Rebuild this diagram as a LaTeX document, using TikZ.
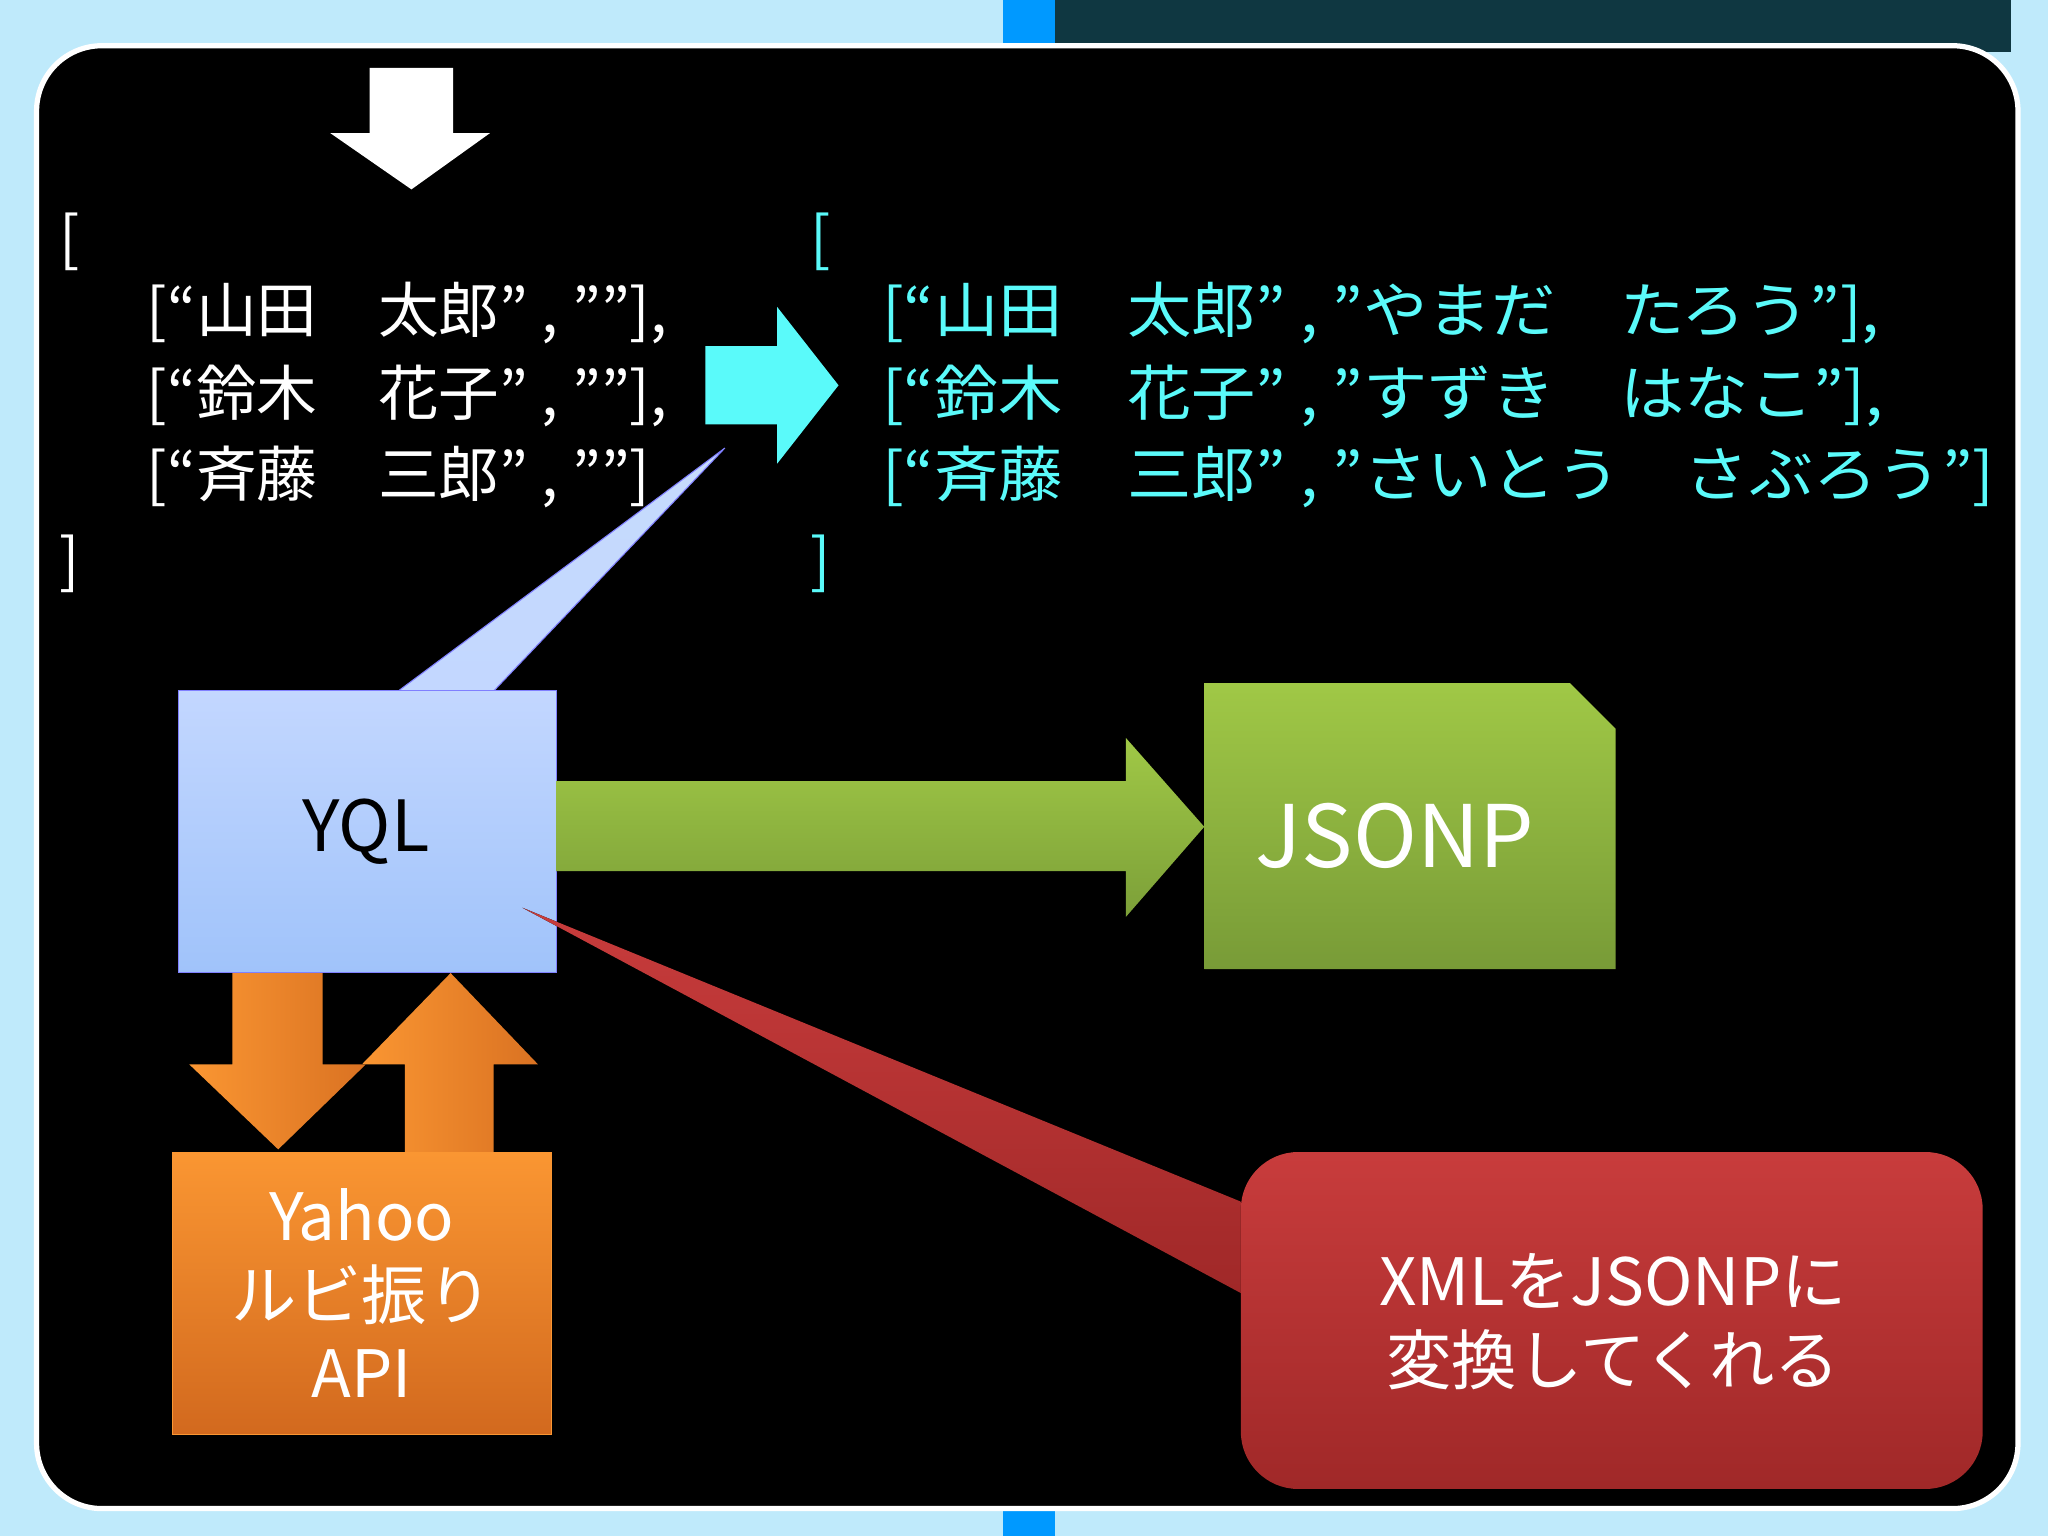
\documentclass[tikz,border=0pt]{standalone}
\usepackage{fontspec}
\setmainfont{Noto Sans CJK JP}
\usetikzlibrary{shapes.geometric}
\definecolor{cy}{RGB}{90,250,250}
\definecolor{lb}{RGB}{195,215,255}
\definecolor{lb2}{RGB}{160,195,250}
\definecolor{gr1}{RGB}{160,200,70}
\definecolor{gr2}{RGB}{120,155,55}
\definecolor{or1}{RGB}{250,150,50}
\definecolor{or2}{RGB}{210,105,30}
\definecolor{rd1}{RGB}{200,60,60}
\definecolor{rd2}{RGB}{160,40,40}
\definecolor{tl}{RGB}{15,55,65}
\tikzset{
 lst/.style={anchor=west,inner sep=0,font=\fontsize{23}{26}\selectfont},
 box/.style={draw,minimum width=145pt,minimum height=108pt,inner sep=0},
}
\begin{document}
\begin{tikzpicture}[x=0.5pt,y=-0.5pt]
\useasboundingbox (0,0) rectangle (1568,1176);
\fill[cyan!25] (0,0) rectangle (1568,1176);
\fill[tl] (800,0) rectangle (1540,40);
\fill[blue!40!cyan] (768,0) rectangle (808,40);
\fill[blue!40!cyan] (768,1150) rectangle (808,1176);
\draw[white,line width=2pt,fill=black,rounded corners=25pt] (28,35) rectangle (1545,1155);
% white down arrow
\fill[white] (283,52) -- (347,52) -- (347,102) -- (375,102) -- (315,145) -- (253,102) -- (283,102) -- cycle;
% left list
\node[lst,white] (l0) at (45,185) {[};
\node[lst,white] (l1) at (112,240) {\scalebox{1.01}[1]{[“山田　太郎” , ””],}};
\node[lst,white] (l2) at (112,303) {\scalebox{1.01}[1]{[“鈴木　花子” , ””],}};
\node[lst,white] (l3) at (112,365) {\scalebox{1.01}[1]{[“斉藤　三郎” , ””]}};
\node[lst,white] (l4) at (45,432) {]};
% right list
\node[lst,cy] (r0) at (620,185) {[};
\node[lst,cy] (r1) at (675,240) {\scalebox{1.07}[1]{[“山田　太郎” , ”やまだ　たろう”],}};
\node[lst,cy] (r2) at (675,303) {\scalebox{1.07}[1]{[“鈴木　花子” , ”すずき　はなこ”],}};
\node[lst,cy] (r3) at (675,365) {\scalebox{1.07}[1]{[“斉藤　三郎” , ”さいとう　さぶろう”]}};
\node[lst,cy] (r4) at (620,432) {]};
% cyan arrow
\fill[cy] (540,265) -- (595,265) -- (595,235) -- (642,295) -- (595,355) -- (595,325) -- (540,325) -- cycle;
% callout blue
\coordinate (ct) at (555,343);
\fill[top color=lb2!60!white,bottom color=lb] (305,529) -- (ct) -- (378,529) -- cycle;
\draw[blue!50] (305,529) -- (ct) -- (378,529);
% YQL
\node[box,draw=blue!50,top color=lb,bottom color=lb2,anchor=north west] (yql) at (136,528) {};
\node[font=\fontsize{27}{30}\selectfont,black] at (280,637) {YQL};
% green arrow
\fill[top color=gr1,bottom color=gr2!90!gr1] (426,598) -- (862,598) -- (862,565) -- (922,633) -- (862,702) -- (862,667) -- (426,667) -- cycle;
% JSONP
\fill[top color=gr1,bottom color=gr2] (922,523) -- (1202,523) -- (1237,558) -- (1237,742) -- (922,742) -- cycle;
\node[font=\fontsize{33}{36}\selectfont,white] (js) at (1068,640) {JSONP};
% orange arrows
\fill[left color=or1,right color=or2!80!or1] (178,745) -- (247,745) -- (247,815) -- (280,815) -- (213,880) -- (145,815) -- (178,815) -- cycle;
\fill[left color=or1,right color=or2!80!or1] (310,882) -- (378,882) -- (378,815) -- (412,815) -- (345,745) -- (277,815) -- (310,815) -- cycle;
% Yahoo
\node[box,draw=or1,top color=or1,bottom color=or2,anchor=north west] (ya) at (132,882) {};
\node[font=\fontsize{25}{30}\selectfont,white,align=center] at (277,990) {Yahoo\\ルビ振り\\API};
% red callout
\fill[top color=rd1,bottom color=rd2] (950,920) -- (400,695) -- (950,990) -- cycle;
\fill[top color=rd1,bottom color=rd2,rounded corners=22pt] (950,882) rectangle (1518,1140);
\node[font=\fontsize{25}{30}\selectfont,white,align=center] (xm) at (1235,1012) {XMLをJSONPに\\変換してくれる};
\end{tikzpicture}
\end{document}
